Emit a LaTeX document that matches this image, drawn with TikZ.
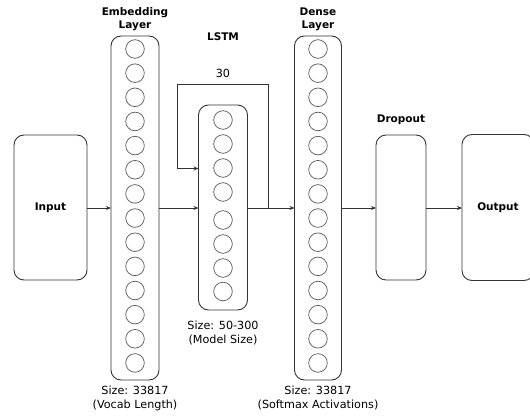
\documentclass[tikz,border=0pt]{standalone}
\usepackage{fontspec}
\setmainfont{DejaVu Sans}
\usetikzlibrary{arrows.meta}
\begin{document}
\begin{tikzpicture}[x=1pt,y=-1pt,
  line width=0.9pt,
  every node/.style={font=\fontsize{11.2}{14}\selectfont, inner sep=0pt, outer sep=0pt},
  blockbox/.style={draw=black!80, rounded corners=10pt, minimum width=#1},
  unit/.style={draw=black!65, line width=0.7pt, circle, minimum size=18.6pt},
  lbl/.style={align=center},
  bold/.style={align=center, font=\fontsize{10.5}{13}\selectfont\bfseries},
  conn/.style={draw=black!80, -{Stealth[length=5pt,width=4pt]}},
  plain/.style={draw=black!80}
]
\useasboundingbox (0,0) rectangle (530,415);

% blocks
\node[blockbox=73pt, minimum height=145pt] (input) at (50.5,207.5) {};
\node[bold] (inputtxt) at (50.5,208) {Input};
\node[blockbox=48pt, minimum height=344pt] (emb) at (135,208) {};
\node[blockbox=49pt, minimum height=205pt] (lstm) at (223,207.5) {};
\node[blockbox=47pt, minimum height=344pt] (dense) at (318,208) {};
\node[blockbox=50pt, minimum height=145pt] (drop) at (401,207.5) {};
\node[blockbox=72pt, minimum height=146pt] (out) at (498,207.5) {};
\node[bold] (outtxt) at (498,208) {Output};

% units
\foreach \k in {0,...,13} {
  \node[unit] (e\k) at (135,{49+24.15*\k}) {};
  \node[unit] (d\k) at (318,{49+24.15*\k}) {};
}
\foreach \y [count=\i] in {120,144,168,192,220,244,268,291.5} {
  \node[unit] (l\i) at (223,\y) {};
}

% labels
\node[bold] (embl) at (135,19) {Embedding\\Layer};
\node[bold] (lstml) at (223,37) {LSTM};
\node[lbl] (thirty) at (223,73) {30};
\node[bold] (densel) at (318,19) {Dense\\Layer};
\node[bold] (dropl) at (401,120) {Dropout};
\node[lbl] (embs) at (135,398) {Size: 33817\\(Vocab Length)};
\node[lbl] (lstms) at (223,333) {Size: 50-300\\(Model Size)};
\node[lbl] (denses) at (318,398) {Size: 33817\\(Softmax Activations)};

% connectors
\coordinate (br) at (268,208);
\coordinate (loopa) at (268,84);
\coordinate (loopb) at (177,84);
\coordinate (loopc) at (177,168.5);
\coordinate (lstmin) at (lstm.west |- loopc);
\draw[conn] (input.east |- 0,208) -- (emb.west |- 0,208);
\draw[conn] (emb.east |- 0,208) -- (lstm.west |- 0,208);
\draw[conn] (lstm.east |- 0,208) -- (dense.west |- 0,208);
\draw[conn] (dense.east |- 0,208) -- (drop.west |- 0,208);
\draw[conn] (drop.east |- 0,208) -- (out.west |- 0,208);
\draw[conn] (br) -- (loopa) -- (loopb) -- (loopc) -- (lstmin);
\end{tikzpicture}
\end{document}
